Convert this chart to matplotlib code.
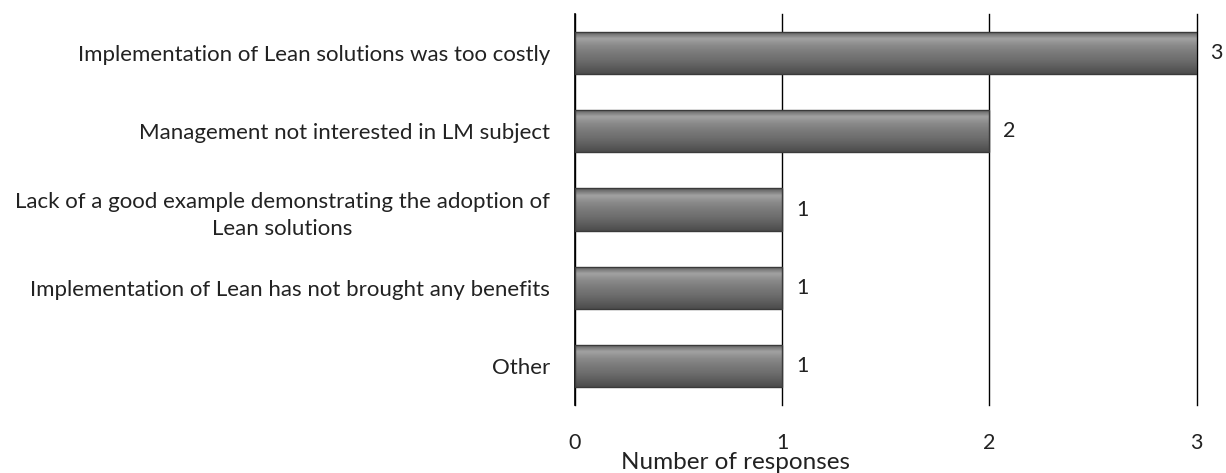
import matplotlib.pyplot as plt
import numpy as np
from matplotlib.colors import LinearSegmentedColormap
from matplotlib.patches import Rectangle

plt.rcParams['font.family'] = ['Lato', 'DejaVu Sans']

categories = ['Other',
              'Implementation of Lean has not brought any benefits',
              'Lack of a good example demonstrating the adoption of\nLean solutions',
              'Management not interested in LM subject',
              'Implementation of Lean solutions was too costly']
values = [1, 1, 1, 2, 3]
xticks = [0, 1, 2, 3]

bar_h = 0.54
grad = LinearSegmentedColormap.from_list(
    'bar', ['#4c4c4c', '#5e5e5e', '#6e6e6e', '#7a7a7a', '#8a8a8a', '#a2a2a2', '#5a5a5a'])


def main():
  fig = plt.figure(figsize=(12.26, 4.73), dpi=100)
  ax = fig.add_axes([0.469, 0.144, 0.507, 0.826])

  y = np.arange(len(categories))
  bars = ax.barh(y, values, height=bar_h, color='none', edgecolor='#3a3a3a', lw=1.0, zorder=3)

  # vertical gradient inside every bar
  g = np.linspace(0, 1, 64).reshape(-1, 1)
  for b in bars:
    x0, y0 = b.get_x(), b.get_y()
    w, h = b.get_width(), b.get_height()
    im = ax.imshow(g, cmap=grad, aspect='auto', extent=(x0, x0 + w, y0, y0 + h),
                   origin='lower', zorder=2)
    im.set_clip_path(Rectangle((x0, y0), w, h, transform=ax.transData))

  for yi, v in zip(y, values):
    ax.annotate(str(v), (v, yi), xytext=(10, 0), textcoords='offset points',
                va='center', ha='left', fontsize=15.5, color='#222222')

  ax.set_xlim(0, 3)
  ax.set_ylim(-0.5, len(categories) - 0.5)
  ax.set_xticks(xticks)
  ax.set_yticks(y)
  ax.set_yticklabels(categories, fontsize=16, color='#222222', multialignment='center',
                     linespacing=1.45)
  ax.tick_params(axis='y', length=0, pad=18)
  ax.tick_params(axis='x', length=0, pad=20, labelsize=15.5, labelcolor='#222222')
  ax.xaxis.grid(True, color='black', lw=1.0)
  for gl in ax.get_xgridlines():
    gl.set_clip_on(False)
  ax.set_axisbelow(True)
  for s in ['top', 'bottom', 'right']:
    ax.spines[s].set_visible(False)
  ax.spines['left'].set_color('black')
  ax.spines['left'].set_linewidth(1.2)
  ax.set_xlabel('Number of responses', fontsize=17.5, color='#222222')
  ax.xaxis.set_label_coords(0.259, -0.12)

  fig.savefig('out.png', dpi=100)


if __name__ == '__main__':
  main()
